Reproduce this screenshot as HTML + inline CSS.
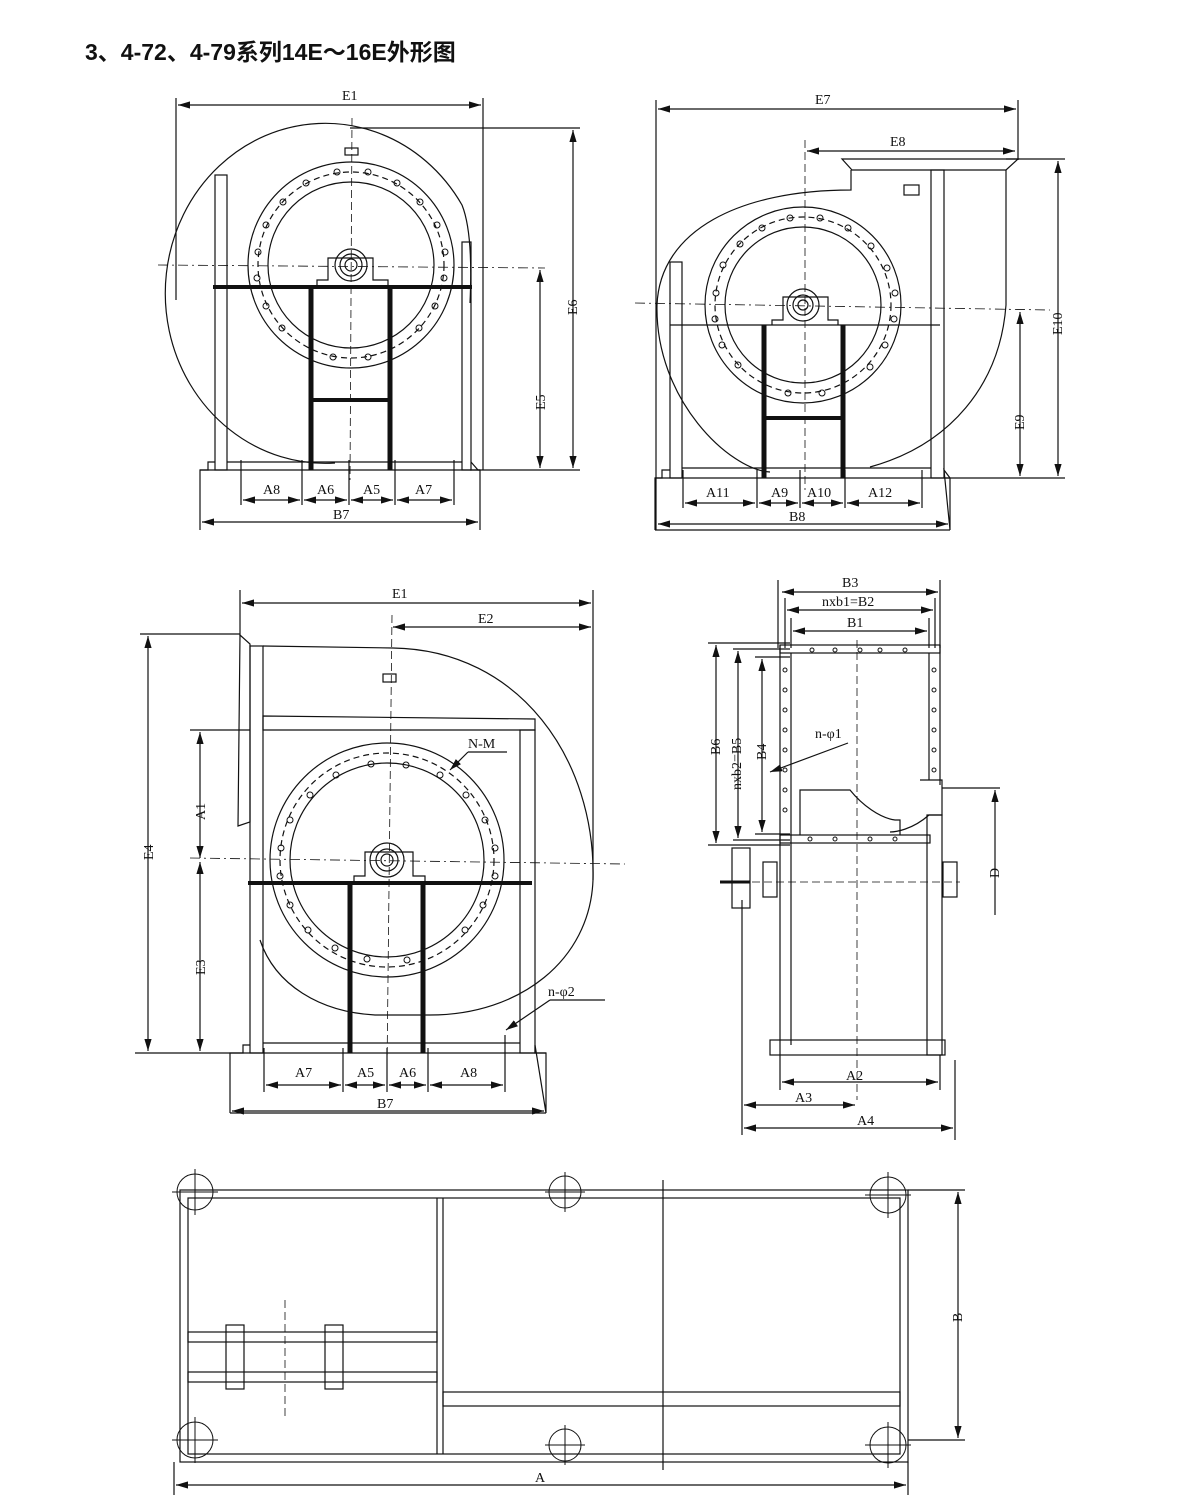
<!DOCTYPE html>
<html><head><meta charset="utf-8"><style>
html,body{margin:0;padding:0;background:#fff}
svg{display:block}
text{font-family:"Liberation Serif",serif;font-size:14px;fill:#111}
.t{font-family:"Liberation Sans","Noto Sans CJK SC",sans-serif;font-size:23px;font-weight:bold}
</style></head><body>
<svg width="1200" height="1500" viewBox="0 0 1200 1500" xmlns="http://www.w3.org/2000/svg">
<defs>
<marker id="a" viewBox="0 0 10 6" refX="10" refY="3" markerWidth="10" markerHeight="6" orient="auto-start-reverse"><path d="M0,0L10,3L0,6z" fill="#111"/></marker>
</defs>
<text class="t" x="85" y="60">3、4-72、4-79系列14E～16E外形图</text>
<g stroke="#111" fill="none" stroke-width="1.2">
<!-- ===== View 1 ===== -->
<line x1="176" y1="98" x2="176" y2="300"/><line x1="483" y1="98" x2="483" y2="470"/>
<line x1="178" y1="105" x2="481" y2="105" marker-start="url(#a)" marker-end="url(#a)"/>
<path d="M335,463 A160,170 0 1 1 462,205 C470,225 472,260 470,303"/>
<circle cx="351" cy="265" r="103"/><circle cx="351" cy="265" r="83"/>
<circle cx="351" cy="265" r="93" stroke-dasharray="6 4"/>
<rect x="215" y="175" width="12" height="295"/>
<rect x="462" y="242" width="9" height="228"/>
<line x1="213" y1="287" x2="472" y2="287" stroke-width="4"/>
<line x1="311" y1="287" x2="311" y2="470" stroke-width="5"/><line x1="390" y1="287" x2="390" y2="470" stroke-width="5"/>
<line x1="311" y1="400" x2="390" y2="400" stroke-width="4"/>
<path d="M317,287 L317,280 L328,280 L328,258 L373,258 L373,280 L388,280 L388,287"/>
<circle cx="351" cy="265" r="16"/><circle cx="351" cy="265" r="11"/><circle cx="351" cy="265" r="6"/>
<rect x="345" y="148" width="13" height="7"/>
<line x1="158" y1="265" x2="545" y2="268" stroke-dasharray="10 4 2 4" stroke-width="0.8"/>
<line x1="352" y1="118" x2="350" y2="480" stroke-dasharray="8 4" stroke-width="0.8"/>
<path d="M200,530 L200,470 L208,470 L208,462 L215,462 M471,462 L478,470 L480,470 L480,530"/>
<line x1="200" y1="470" x2="480" y2="470"/>
<line x1="227" y1="462" x2="462" y2="462"/>
<line x1="350" y1="128" x2="580" y2="128"/><line x1="470" y1="470" x2="580" y2="470"/>
<line x1="573" y1="130" x2="573" y2="468" marker-start="url(#a)" marker-end="url(#a)"/>
<line x1="540" y1="270" x2="540" y2="468" marker-start="url(#a)" marker-end="url(#a)"/>
<line x1="241" y1="460" x2="241" y2="505"/><line x1="302" y1="460" x2="302" y2="505"/><line x1="349" y1="460" x2="349" y2="505"/><line x1="395" y1="460" x2="395" y2="505"/><line x1="454" y1="460" x2="454" y2="505"/>
<line x1="243" y1="500" x2="300" y2="500" marker-start="url(#a)" marker-end="url(#a)"/>
<line x1="304" y1="500" x2="347" y2="500" marker-start="url(#a)" marker-end="url(#a)"/>
<line x1="351" y1="500" x2="393" y2="500" marker-start="url(#a)" marker-end="url(#a)"/>
<line x1="397" y1="500" x2="452" y2="500" marker-start="url(#a)" marker-end="url(#a)"/>
<line x1="202" y1="522" x2="478" y2="522" marker-start="url(#a)" marker-end="url(#a)"/>
<!-- ===== View 2 ===== -->
<line x1="656" y1="100" x2="656" y2="530"/><line x1="1018" y1="100" x2="1018" y2="160"/>
<line x1="658" y1="109" x2="1016" y2="109" marker-start="url(#a)" marker-end="url(#a)"/>
<line x1="807" y1="151" x2="1015" y2="151" marker-start="url(#a)" marker-end="url(#a)"/>
<path d="M842,159 L1018,159 L1006,170 L852,170 Z"/>
<path d="M851,170 L851,190 C740,190 660,230 657,305 C655,400 730,470 770,472"/>
<path d="M870,467 C950,445 1000,385 1006,305 L1006,170"/>
<circle cx="803" cy="305" r="98"/><circle cx="803" cy="305" r="78"/>
<circle cx="803" cy="305" r="88" stroke-dasharray="6 4"/>
<rect x="931" y="170" width="13" height="308"/><rect x="670" y="262" width="12" height="216"/>
<line x1="670" y1="325" x2="940" y2="325"/>
<line x1="764" y1="325" x2="764" y2="478" stroke-width="5"/><line x1="843" y1="325" x2="843" y2="478" stroke-width="5"/>
<line x1="764" y1="418" x2="843" y2="418" stroke-width="4"/>
<path d="M772,325 L772,320 L783,320 L783,297 L828,297 L828,320 L838,320 L838,325"/>
<circle cx="803" cy="305" r="16"/><circle cx="803" cy="305" r="10"/><circle cx="803" cy="305" r="5"/>
<rect x="904" y="185" width="15" height="10"/>
<line x1="635" y1="303" x2="1050" y2="310" stroke-dasharray="10 4 2 4" stroke-width="0.8"/>
<line x1="805" y1="140" x2="805" y2="490" stroke-dasharray="8 4" stroke-width="0.8"/>
<path d="M655,530 L655,478 L662,478 L662,470 L670,470 M944,470 L950,478 L950,530 Z"/>
<line x1="655" y1="478" x2="950" y2="478"/><line x1="655" y1="530" x2="950" y2="530"/>
<line x1="682" y1="468" x2="931" y2="468"/>
<line x1="1006" y1="159" x2="1065" y2="159"/><line x1="944" y1="478" x2="1065" y2="478"/>
<line x1="1058" y1="161" x2="1058" y2="476" marker-start="url(#a)" marker-end="url(#a)"/>
<line x1="1020" y1="312" x2="1020" y2="476" marker-start="url(#a)" marker-end="url(#a)"/>
<line x1="683" y1="470" x2="683" y2="508"/><line x1="757" y1="470" x2="757" y2="508"/><line x1="800" y1="470" x2="800" y2="508"/><line x1="845" y1="470" x2="845" y2="508"/><line x1="922" y1="470" x2="922" y2="508"/>
<line x1="685" y1="503" x2="755" y2="503" marker-start="url(#a)" marker-end="url(#a)"/>
<line x1="759" y1="503" x2="798" y2="503" marker-start="url(#a)" marker-end="url(#a)"/>
<line x1="802" y1="503" x2="843" y2="503" marker-start="url(#a)" marker-end="url(#a)"/>
<line x1="847" y1="503" x2="920" y2="503" marker-start="url(#a)" marker-end="url(#a)"/>
<line x1="658" y1="524" x2="948" y2="524" marker-start="url(#a)" marker-end="url(#a)"/>
<!-- ===== View 3 ===== -->
<line x1="240" y1="590" x2="240" y2="636"/><line x1="593" y1="590" x2="593" y2="880"/>
<line x1="242" y1="603" x2="591" y2="603" marker-start="url(#a)" marker-end="url(#a)"/>
<line x1="393" y1="627" x2="591" y2="627" marker-start="url(#a)" marker-end="url(#a)"/>
<path d="M240,635 L250,644 L250,822 L238,826 Z"/>
<rect x="250" y="646" width="13" height="407"/>
<path d="M263,646 L393,648 C520,650 596,760 593,880 C590,960 520,1015 430,1015 L375,1015 C320,1012 275,985 260,940"/>
<path d="M263,716 L535,719 L535,730 L263,730 Z"/>
<rect x="520" y="730" width="15" height="323"/>
<circle cx="387" cy="860" r="117"/><circle cx="387" cy="860" r="97"/>
<circle cx="387" cy="860" r="107" stroke-dasharray="6 4"/>
<line x1="248" y1="883" x2="532" y2="883" stroke-width="4"/>
<line x1="350" y1="883" x2="350" y2="1053" stroke-width="5"/><line x1="423" y1="883" x2="423" y2="1053" stroke-width="5"/>
<path d="M354,883 L354,876 L365,876 L365,852 L413,852 L413,876 L425,876 L425,883"/>
<circle cx="387" cy="860" r="17"/><circle cx="387" cy="860" r="11"/><circle cx="387" cy="860" r="6"/>
<rect x="383" y="674" width="13" height="8"/>
<line x1="190" y1="858" x2="625" y2="864" stroke-dasharray="10 4 2 4" stroke-width="0.8"/>
<line x1="392" y1="615" x2="387" y2="1070" stroke-dasharray="8 4" stroke-width="0.8"/>
<line x1="450" y1="770" x2="468" y2="752" marker-start="url(#a)"/><line x1="468" y1="752" x2="507" y2="752"/>
<path d="M230,1113 L230,1053 L243,1053 L243,1045 L250,1045 M535,1045 L535,1053 L546,1053 L546,1113 Z"/>
<line x1="230" y1="1053" x2="546" y2="1053"/><line x1="230" y1="1113" x2="546" y2="1113"/>
<line x1="263" y1="1043" x2="520" y2="1043"/>
<line x1="140" y1="634" x2="240" y2="634"/><line x1="135" y1="1053" x2="230" y2="1053"/><line x1="190" y1="730" x2="250" y2="730"/>
<line x1="148" y1="636" x2="148" y2="1051" marker-start="url(#a)" marker-end="url(#a)"/>
<line x1="200" y1="732" x2="200" y2="858" marker-start="url(#a)" marker-end="url(#a)"/>
<line x1="200" y1="862" x2="200" y2="1051" marker-start="url(#a)" marker-end="url(#a)"/>
<line x1="264" y1="1048" x2="264" y2="1092"/><line x1="343" y1="1048" x2="343" y2="1092"/><line x1="387" y1="1048" x2="387" y2="1092"/><line x1="428" y1="1048" x2="428" y2="1092"/><line x1="505" y1="1035" x2="505" y2="1092"/>
<line x1="266" y1="1055" x2="266" y2="1055"/>
<line x1="266" y1="1085" x2="341" y2="1085" marker-start="url(#a)" marker-end="url(#a)"/>
<line x1="345" y1="1085" x2="385" y2="1085" marker-start="url(#a)" marker-end="url(#a)"/>
<line x1="389" y1="1085" x2="426" y2="1085" marker-start="url(#a)" marker-end="url(#a)"/>
<line x1="430" y1="1085" x2="503" y2="1085" marker-start="url(#a)" marker-end="url(#a)"/>
<line x1="232" y1="1111" x2="544" y2="1111" marker-start="url(#a)" marker-end="url(#a)"/>
<line x1="506" y1="1030" x2="550" y2="1000" marker-start="url(#a)"/><line x1="550" y1="1000" x2="605" y2="1000"/>
<!-- ===== View 4 ===== -->
<rect x="780" y="645" width="160" height="8"/>
<line x1="780" y1="645" x2="780" y2="1055"/><line x1="791" y1="653" x2="791" y2="1045"/>
<line x1="940" y1="645" x2="940" y2="785"/><line x1="929" y1="653" x2="929" y2="780"/>
<rect x="780" y="835" width="150" height="8"/>
<path d="M800,835 L800,790 L850,790 C862,805 880,818 895,820 L900,820 L900,835"/>
<path d="M920,780 L942,780 L942,815 L929,815 C912,830 895,832 890,832"/>
<rect x="927" y="815" width="15" height="240"/>
<rect x="770" y="1040" width="175" height="15"/>
<rect x="732" y="848" width="18" height="60"/><rect x="763" y="862" width="14" height="35"/><rect x="943" y="862" width="14" height="35"/>
<line x1="720" y1="882" x2="750" y2="882" stroke-width="3"/>
<line x1="740" y1="882" x2="960" y2="882" stroke-dasharray="8 4" stroke-width="0.8"/>
<line x1="857" y1="640" x2="857" y2="1100" stroke-dasharray="8 4" stroke-width="0.8"/>
<line x1="778" y1="580" x2="778" y2="648"/><line x1="940" y1="580" x2="940" y2="648"/>
<line x1="782" y1="592" x2="938" y2="592" marker-start="url(#a)" marker-end="url(#a)"/>
<line x1="785" y1="598" x2="785" y2="648"/><line x1="935" y1="598" x2="935" y2="648"/>
<line x1="787" y1="610" x2="933" y2="610" marker-start="url(#a)" marker-end="url(#a)"/>
<line x1="791" y1="618" x2="791" y2="648"/><line x1="929" y1="618" x2="929" y2="648"/>
<line x1="793" y1="631" x2="927" y2="631" marker-start="url(#a)" marker-end="url(#a)"/>
<line x1="708" y1="643" x2="790" y2="643"/><line x1="708" y1="845" x2="790" y2="845"/>
<line x1="733" y1="649" x2="790" y2="649"/><line x1="733" y1="840" x2="790" y2="840"/>
<line x1="755" y1="657" x2="790" y2="657"/><line x1="755" y1="834" x2="790" y2="834"/>
<line x1="716" y1="645" x2="716" y2="843" marker-start="url(#a)" marker-end="url(#a)"/>
<line x1="738" y1="651" x2="738" y2="838" marker-start="url(#a)" marker-end="url(#a)"/>
<line x1="762" y1="659" x2="762" y2="832" marker-start="url(#a)" marker-end="url(#a)"/>
<line x1="848" y1="743" x2="770" y2="772" marker-end="url(#a)"/>
<line x1="942" y1="788" x2="1000" y2="788"/>
<line x1="995" y1="790" x2="995" y2="915" marker-start="url(#a)"/>
<line x1="742" y1="900" x2="742" y2="1135"/><line x1="955" y1="1060" x2="955" y2="1140"/><line x1="780" y1="1055" x2="780" y2="1090"/><line x1="940" y1="1055" x2="940" y2="1090"/>
<line x1="782" y1="1082" x2="938" y2="1082" marker-start="url(#a)" marker-end="url(#a)"/>
<line x1="744" y1="1105" x2="855" y2="1105" marker-start="url(#a)" marker-end="url(#a)"/>
<line x1="744" y1="1128" x2="953" y2="1128" marker-start="url(#a)" marker-end="url(#a)"/>
<!-- ===== View 5 ===== -->
<rect x="180" y="1190" width="728" height="272"/><rect x="188" y="1198" width="712" height="256"/>
<line x1="437" y1="1198" x2="437" y2="1454"/><line x1="443" y1="1198" x2="443" y2="1454"/>
<line x1="663" y1="1180" x2="663" y2="1470"/>
<rect x="443" y="1392" width="457" height="14"/>
<rect x="188" y="1332" width="249" height="10"/><rect x="188" y="1372" width="249" height="10"/>
<rect x="226" y="1325" width="18" height="64"/><rect x="325" y="1325" width="18" height="64"/>
<line x1="285" y1="1300" x2="285" y2="1420" stroke-dasharray="8 4" stroke-width="0.8"/>
<line x1="908" y1="1190" x2="965" y2="1190"/><line x1="908" y1="1440" x2="965" y2="1440"/>
<line x1="958" y1="1192" x2="958" y2="1438" marker-start="url(#a)" marker-end="url(#a)"/>
<line x1="174" y1="1462" x2="174" y2="1495"/><line x1="908" y1="1462" x2="908" y2="1495"/>
<line x1="176" y1="1485" x2="906" y2="1485" marker-start="url(#a)" marker-end="url(#a)"/>
</g>
<g fill="none" stroke="#111" stroke-width="1">
<circle cx="337" cy="172" r="3"/><circle cx="368" cy="172" r="3"/><circle cx="397" cy="183" r="3"/><circle cx="420" cy="202" r="3"/><circle cx="437" cy="225" r="3"/><circle cx="445" cy="252" r="3"/><circle cx="444" cy="278" r="3"/><circle cx="435" cy="306" r="3"/><circle cx="419" cy="328" r="3"/><circle cx="368" cy="357" r="3"/><circle cx="333" cy="357" r="3"/><circle cx="282" cy="328" r="3"/><circle cx="266" cy="306" r="3"/><circle cx="257" cy="278" r="3"/><circle cx="258" cy="252" r="3"/><circle cx="266" cy="225" r="3"/><circle cx="283" cy="202" r="3"/><circle cx="306" cy="183" r="3"/>
<circle cx="790" cy="218" r="3"/><circle cx="820" cy="218" r="3"/><circle cx="848" cy="228" r="3"/><circle cx="871" cy="246" r="3"/><circle cx="887" cy="268" r="3"/><circle cx="895" cy="293" r="3"/><circle cx="894" cy="319" r="3"/><circle cx="885" cy="345" r="3"/><circle cx="870" cy="367" r="3"/><circle cx="822" cy="393" r="3"/><circle cx="788" cy="393" r="3"/><circle cx="738" cy="365" r="3"/><circle cx="722" cy="345" r="3"/><circle cx="715" cy="319" r="3"/><circle cx="716" cy="293" r="3"/><circle cx="723" cy="265" r="3"/><circle cx="740" cy="244" r="3"/><circle cx="762" cy="228" r="3"/>
<circle cx="371" cy="764" r="3"/><circle cx="406" cy="765" r="3"/><circle cx="440" cy="775" r="3"/><circle cx="466" cy="795" r="3"/><circle cx="485" cy="820" r="3"/><circle cx="495" cy="848" r="3"/><circle cx="495" cy="876" r="3"/><circle cx="483" cy="905" r="3"/><circle cx="465" cy="930" r="3"/><circle cx="407" cy="960" r="3"/><circle cx="367" cy="959" r="3"/><circle cx="335" cy="948" r="3"/><circle cx="308" cy="930" r="3"/><circle cx="290" cy="905" r="3"/><circle cx="280" cy="876" r="3"/><circle cx="281" cy="848" r="3"/><circle cx="290" cy="820" r="3"/><circle cx="310" cy="795" r="3"/><circle cx="336" cy="775" r="3"/>
<circle cx="812" cy="650" r="2"/><circle cx="835" cy="650" r="2"/><circle cx="860" cy="650" r="2"/><circle cx="880" cy="650" r="2"/><circle cx="905" cy="650" r="2"/>
<circle cx="785" cy="670" r="2"/><circle cx="785" cy="690" r="2"/><circle cx="785" cy="710" r="2"/><circle cx="785" cy="730" r="2"/><circle cx="785" cy="750" r="2"/><circle cx="785" cy="770" r="2"/><circle cx="785" cy="790" r="2"/><circle cx="785" cy="810" r="2"/>
<circle cx="934" cy="670" r="2"/><circle cx="934" cy="690" r="2"/><circle cx="934" cy="710" r="2"/><circle cx="934" cy="730" r="2"/><circle cx="934" cy="750" r="2"/><circle cx="934" cy="770" r="2"/>
<circle cx="810" cy="839" r="2"/><circle cx="835" cy="839" r="2"/><circle cx="870" cy="839" r="2"/><circle cx="895" cy="839" r="2"/>
<circle cx="195" cy="1192" r="18"/><circle cx="565" cy="1192" r="16"/><circle cx="888" cy="1195" r="18"/>
<circle cx="195" cy="1440" r="18"/><circle cx="565" cy="1445" r="16"/><circle cx="888" cy="1445" r="18"/>
<path d="M172,1192h46M195,1169v46M545,1192h40M565,1172v40M865,1195h46M888,1172v46M172,1440h46M195,1417v46M545,1445h40M565,1425v40M865,1445h46M888,1422v46"/>
</g>
<text x="342" y="100">E1</text>
<text x="815" y="104">E7</text><text x="890" y="146">E8</text>
<text x="577" y="315" transform="rotate(-90 577 315)">E6</text>
<text x="545" y="410" transform="rotate(-90 545 410)">E5</text>
<text x="263" y="494">A8</text><text x="317" y="494">A6</text><text x="363" y="494">A5</text><text x="415" y="494">A7</text>
<text x="333" y="519">B7</text>
<text x="706" y="497">A11</text><text x="771" y="497">A9</text><text x="807" y="497">A10</text><text x="868" y="497">A12</text>
<text x="789" y="521">B8</text>
<text x="1062" y="335" transform="rotate(-90 1062 335)">E10</text>
<text x="1024" y="430" transform="rotate(-90 1024 430)">E9</text>
<text x="392" y="598">E1</text><text x="478" y="623">E2</text>
<text x="468" y="748">N-M</text>
<text x="153" y="860" transform="rotate(-90 153 860)">E4</text>
<text x="205" y="820" transform="rotate(-90 205 820)">A1</text>
<text x="205" y="975" transform="rotate(-90 205 975)">E3</text>
<text x="295" y="1077">A7</text><text x="357" y="1077">A5</text><text x="399" y="1077">A6</text><text x="460" y="1077">A8</text>
<text x="377" y="1108">B7</text>
<text x="548" y="996">n-φ2</text>
<text x="842" y="587">B3</text><text x="822" y="606">nxb1=B2</text><text x="847" y="627">B1</text>
<text x="720" y="755" transform="rotate(-90 720 755)">B6</text>
<text x="741" y="790" transform="rotate(-90 741 790)">nxb2=B5</text>
<text x="766" y="760" transform="rotate(-90 766 760)">B4</text>
<text x="815" y="738">n-φ1</text>
<text x="999" y="878" transform="rotate(-90 999 878)">D</text>
<text x="846" y="1080">A2</text><text x="795" y="1102">A3</text><text x="857" y="1125">A4</text>
<text x="962" y="1322" transform="rotate(-90 962 1322)">B</text>
<text x="535" y="1482">A</text>
</svg>
</body></html>
